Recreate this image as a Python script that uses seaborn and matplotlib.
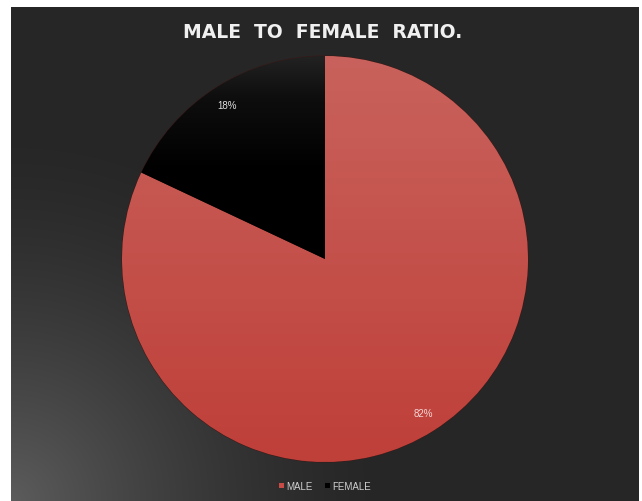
import numpy as np
import matplotlib
matplotlib.use("Agg")
import matplotlib.pyplot as plt
from matplotlib.colors import LinearSegmentedColormap
from matplotlib.patches import Patch
import seaborn as sns

# Share of each gender
categories = ["MALE", "FEMALE"]
shares = [82, 18]
title_text = "MALE  TO  FEMALE  RATIO."

sns.set_theme(style="dark")
plt.rcParams["font.family"] = ["Liberation Sans", "DejaVu Sans"]

W, H = 642, 502
fig = plt.figure(figsize=(W / 100, H / 100), dpi=100, facecolor="white")

# Dark panel with a soft light glow in the bottom-left corner
px_left, px_top, px_right = 11, 8, 639
bg = fig.add_axes([px_left / W, 0, (px_right - px_left) / W, (H - px_top) / H])
bw, bh = px_right - px_left, H - px_top
yy, xx = np.mgrid[0:bh, 0:bw]
dist = np.hypot(xx, bh - yy)
glow = np.clip(1 - dist / 380.0, 0, 1) ** 1.5
base, light = 0x26 / 255, 0x5c / 255
shade = base + (light - base) * glow
bg.imshow(np.dstack([shade, shade, shade]), aspect="auto", interpolation="bilinear")
bg.set_axis_off()

# Pie axes (square, radius ~203 px centred at (325, 260))
cx, cy, r = 325, 260, 203
ax = fig.add_axes([(cx - r) / W, (H - cy - r) / H, 2 * r / W, 2 * r / H])
ax.set_facecolor("none")

male_col = "#c84b45"
female_col = "#000000"
wedges, texts, autotexts = ax.pie(
    shares,
    colors=[male_col, female_col],
    startangle=90,
    counterclock=False,
    autopct="%.0f%%",
    pctdistance=0.9,
    wedgeprops=dict(linewidth=0.8, edgecolor="#3a1a18"),
    textprops=dict(fontsize=7),
)
ax.set_aspect("equal")
ax.set_axis_off()

# Vertical shading inside each slice (bottom -> top)
vert = np.linspace(1, 0, 256).reshape(-1, 1)
shades = [
    LinearSegmentedColormap.from_list("m", ["#bf3f39", "#c9625c"]),
    LinearSegmentedColormap.from_list(
        "f", [(0.0, "#000000"), (0.72, "#000000"), (0.9, "#0e0e0e"), (1.0, "#222222")]),
]
for w, cm in zip(wedges, shades):
    im = ax.imshow(vert, extent=[-1, 1, -1, 1], cmap=cm, aspect="auto",
                   origin="upper", zorder=1.5, interpolation="bilinear")
    im.set_clip_path(w)
ax.set_xlim(-1.0, 1.0)
ax.set_ylim(-1.0, 1.0)

autotexts[0].set_color("#f2d6d4")
autotexts[1].set_color("#e0e0e0")
for t in autotexts:
    t.set_zorder(4)

fig.text(323 / W, 1 - 33 / H, title_text, ha="center", va="center",
         fontsize=13.5, fontweight="bold", color="#f0f0f0",
         family=["DejaVu Sans"])

handles = [Patch(facecolor=male_col, edgecolor="none"),
           Patch(facecolor="#000000", edgecolor="none")]
leg = fig.legend(handles, categories, loc="center", bbox_to_anchor=(325 / W, 15 / H),
                 ncol=2, frameon=False, fontsize=7, handlelength=0.5,
                 handleheight=0.5, handletextpad=0.3, columnspacing=1.2)
for t in leg.get_texts():
    t.set_color("#d0d0d0")

fig.savefig("out.png", dpi=100, facecolor="white")
